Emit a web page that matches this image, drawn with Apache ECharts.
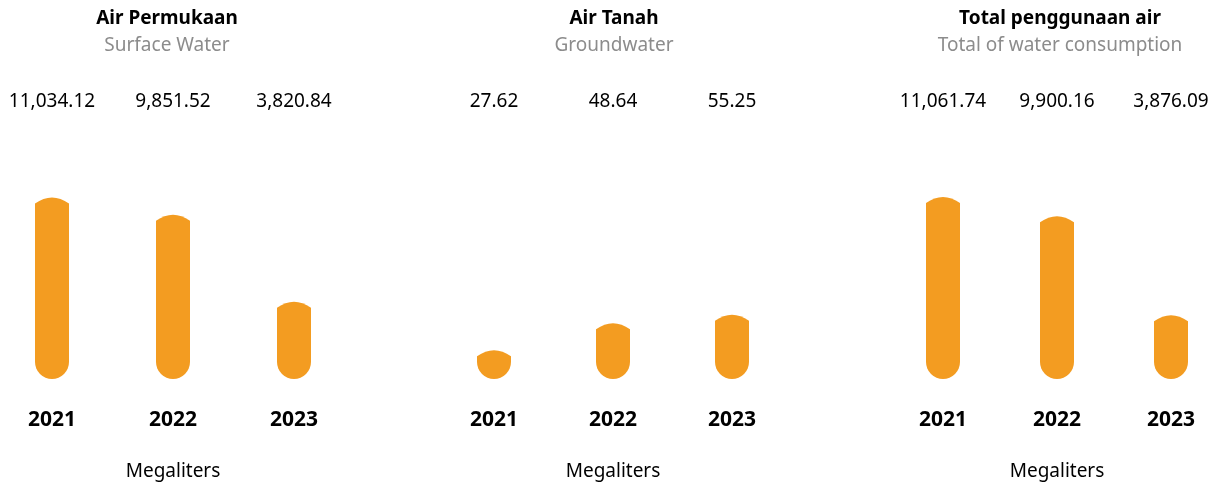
<!DOCTYPE html>
<html>
<head>
<meta charset="utf-8">
<script src="https://cdn.jsdelivr.net/npm/echarts@6/dist/echarts.min.js"></script>
<style>
  html, body { margin: 0; padding: 0; background: #fff; }
  #chart { width: 1219px; height: 486px; }
</style>
</head>
<body>
<div id="chart"></div>
<script>
// Dữ liệu (Megaliters)
var years = ['2021', '2022', '2023'];
var surfaceWater = [11034.12, 9851.52, 3820.84];
var groundWater = [27.62, 48.64, 55.25];
var totalWater = [11061.74, 9900.16, 3876.09];

var panelTitles = ['Air Permukaan', 'Air Tanah', 'Total penggunaan air'];
var panelSubtitles = ['Surface Water', 'Groundwater', 'Total of water consumption'];
var unitLabel = 'Megaliters';

var FONT = '"Noto Sans", "Open Sans", sans-serif';
var ORANGE = '#F39C21';

// vị trí từng panel
var panels = [
    { data: surfaceWater, left: 52, width: 242, min: -1515, max: 16742, center: 167 },
    { data: groundWater, left: 494, width: 238, min: 5.24, max: 210.4, center: 614 },
    { data: totalWater, left: 943, width: 228, min: 0, max: 16050, center: 1060 }
];

function fmt(v) {
    return v.toLocaleString('en-US', { minimumFractionDigits: 2, maximumFractionDigits: 2 });
}

// cột bo tròn đáy, đỉnh hơi cong
function renderBar(params, api) {
    var pt = api.coord([api.value(0), api.value(1)]);
    var cs = params.coordSys;
    var bottom = cs.y + cs.height;
    var r = 17, arc = 6;
    var cx = pt[0], top = pt[1];
    var l = cx - r, rt = cx + r;
    var d = 'M' + l + ' ' + (top + arc) +
        ' Q' + cx + ' ' + (top - arc) + ' ' + rt + ' ' + (top + arc) +
        ' L' + rt + ' ' + (bottom - r) +
        ' A' + r + ' ' + r + ' 0 0 1 ' + l + ' ' + (bottom - r) + ' Z';
    return {
        type: 'path',
        shape: { pathData: d },
        style: { fill: ORANGE }
    };
}

var chart = echarts.init(document.getElementById('chart'));

var option = {
    backgroundColor: '#fff',
    animation: false,
    title: [],
    grid: [],
    xAxis: [],
    yAxis: [],
    series: []
};

panels.forEach(function (p, i) {
    option.title.push({
        text: panelTitles[i],
        subtext: panelSubtitles[i],
        left: p.center,
        top: 9,
        padding: 0,
        itemGap: 8,
        textAlign: 'center',
        textStyle: { fontFamily: FONT, fontSize: 19, fontWeight: 'bold', color: '#000' },
        subtextStyle: { fontFamily: FONT, fontSize: 19, color: '#8c8c8c' }
    });
    option.grid.push({ left: p.left, width: p.width, top: 115, bottom: 107 });
    // trục dưới: năm
    option.xAxis.push({
        type: 'category',
        gridIndex: i,
        data: years,
        boundaryGap: false,
        axisLine: { show: false },
        axisTick: { show: false },
        axisLabel: { interval: 0, margin: 31, fontFamily: FONT, fontSize: 21, fontWeight: 'bold', color: '#000' },
        name: unitLabel,
        nameLocation: 'middle',
        nameGap: 83,
        nameTextStyle: { fontFamily: FONT, fontSize: 19, color: '#000' }
    });
    // trục trên: giá trị
    option.xAxis.push({
        type: 'category',
        gridIndex: i,
        position: 'top',
        data: p.data.map(fmt),
        boundaryGap: false,
        axisLine: { show: false },
        axisTick: { show: false },
        axisLabel: { interval: 0, margin: 4, fontFamily: FONT, fontSize: 19, color: '#000' }
    });
    option.yAxis.push({
        type: 'value',
        gridIndex: i,
        min: p.min,
        max: p.max,
        show: false,
        splitLine: { show: false }
    });
    option.series.push({
        type: 'custom',
        xAxisIndex: i * 2,
        yAxisIndex: i,
        renderItem: renderBar,
        encode: { x: 0, y: 1 },
        data: p.data.map(function (v, k) { return [k, v]; })
    });
});

chart.setOption(option);
</script>
</body>
</html>
